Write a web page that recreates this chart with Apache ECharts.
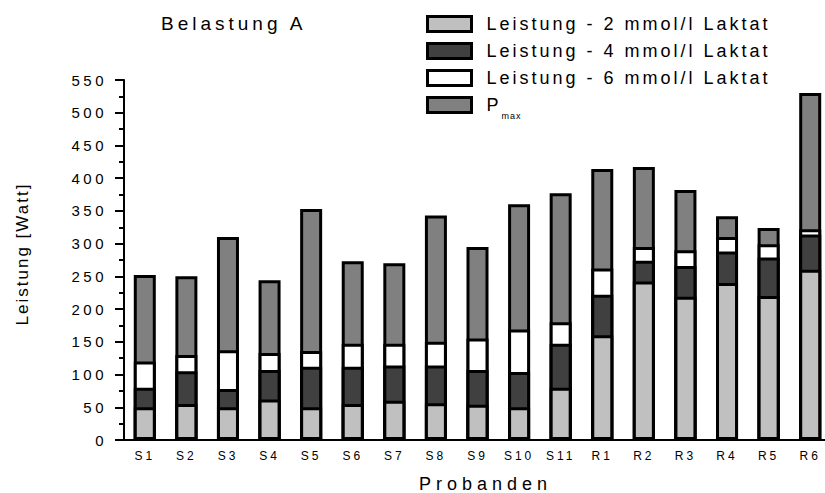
<!DOCTYPE html>
<html><head><meta charset="utf-8">
<script src="https://cdn.jsdelivr.net/npm/echarts@6/dist/echarts.min.js"></script>
<style>html,body{margin:0;padding:0;background:#fff}#c{width:825px;height:493px}</style>
</head><body><div id="c"></div>
<script>
const categories = ['S1','S2','S3','S4','S5','S6','S7','S8','S9','S10','S11','R1','R2','R3','R4','R5','R6'];
const lak2 = [50,55,50,62,50,55,60,56,54,50,80,160,242,219,240,220,260];
const lak4 = [80,105,78,107,112,112,114,114,107,104,147,222,274,266,288,279,314];
const lak6 = [120,130,137,133,136,147,147,150,155,169,180,262,295,290,310,299,322];
const pmax = [252,250,310,244,353,273,270,343,295,360,377,414,417,382,342,324,530];

const N2 = 'Leistung - 2 mmol/l Laktat';
const N4 = 'Leistung - 4 mmol/l Laktat';
const N6 = 'Leistung - 6 mmol/l Laktat';
const NP = 'Pmax';
const FONT = 'Liberation Sans, Arial, sans-serif';
const COL = {[N2]:'#c0c0c0',[N4]:'#404040',[N6]:'#ffffff',[NP]:'#808080'};

function mkSeries(name, data){
  return {name, type:'bar', data, barWidth:22, barGap:'-100%',
    itemStyle:{color:COL[name], borderColor:'#000', borderWidth:3},
    emphasis:{disabled:true}, silent:true};
}

const chart = echarts.init(document.getElementById('c'), null, {renderer:'svg'});
chart.setOption({
  animation:false,
  textStyle:{fontFamily:FONT, color:'#000'},
  title:{text:'Belastung A', left:156, top:9, textStyle:{fontSize:19, fontWeight:'normal', color:'#000', fontFamily:FONT}},
  legend:{
    orient:'vertical', left:421, top:10, icon:'rect', itemWidth:44, itemHeight:15, itemGap:9,
    selectedMode:false,
    data:[N2,N4,N6,NP].map(n=>({name:n, itemStyle:{color:COL[n], borderColor:'#000', borderWidth:3}})),
    formatter: n => n===NP ? '{p|P}{s|max}' : n,
    textStyle:{fontSize:18, color:'#000', fontFamily:FONT, padding:[0,0,0,10],
      rich:{p:{fontSize:18, color:'#000', fontFamily:FONT}, s:{fontSize:9, color:'#000', fontFamily:FONT, padding:[21,0,0,3]}}}
  },
  grid:{left:124, top:80, width:707, height:360, outerBoundsMode:'none'},
  xAxis:{type:'category', data:categories, name:'Probanden', nameLocation:'middle', nameGap:35,
    nameTextStyle:{fontSize:18, color:'#000', fontFamily:FONT, padding:[0,0,0,16]},
    axisLine:{lineStyle:{color:'#000', width:2}},
    axisTick:{alignWithLabel:true, length:4, lineStyle:{color:'#000', width:2}},
    axisLabel:{fontSize:12, color:'#000', margin:10, fontFamily:FONT, interval:0}},
  yAxis:{type:'value', min:0, max:550, interval:50, name:'Leistung [Watt]', nameLocation:'middle', nameRotate:90, nameGap:93,
    nameTextStyle:{fontSize:17, color:'#000', fontFamily:FONT, padding:[0,0,0,12]},
    axisLine:{show:true, lineStyle:{color:'#000', width:2}},
    axisTick:{show:true, length:9, lineStyle:{color:'#000', width:2}},
    minorTick:{show:true, splitNumber:2, length:5, lineStyle:{color:'#000', width:2}},
    splitLine:{show:false},
    axisLabel:{fontSize:15, color:'#000', margin:17, fontFamily:FONT}},
  series:[mkSeries(NP,pmax), mkSeries(N6,lak6), mkSeries(N4,lak4), mkSeries(N2,lak2)]
});

function spacingFor(t){
  if (/^\d+$/.test(t)) return 3.5;
  if (/^[SR]\d+$/.test(t)) return 3;
  if (t.indexOf('Leistung -')===0) return 3;
  if (t==='Leistung [Watt]') return 2;
  if (t==='Belastung A') return 4;
  if (t==='Probanden') return 5;
  if (t==='max') return 1;
  return 0;
}
function applySpacing(){
  document.querySelectorAll('#c svg text').forEach(el=>{
    const s = spacingFor(el.textContent.trim());
    if (s) el.style.letterSpacing = s+'px';
  });
}
chart.on('finished', applySpacing);
applySpacing();
</script>
</body></html>
